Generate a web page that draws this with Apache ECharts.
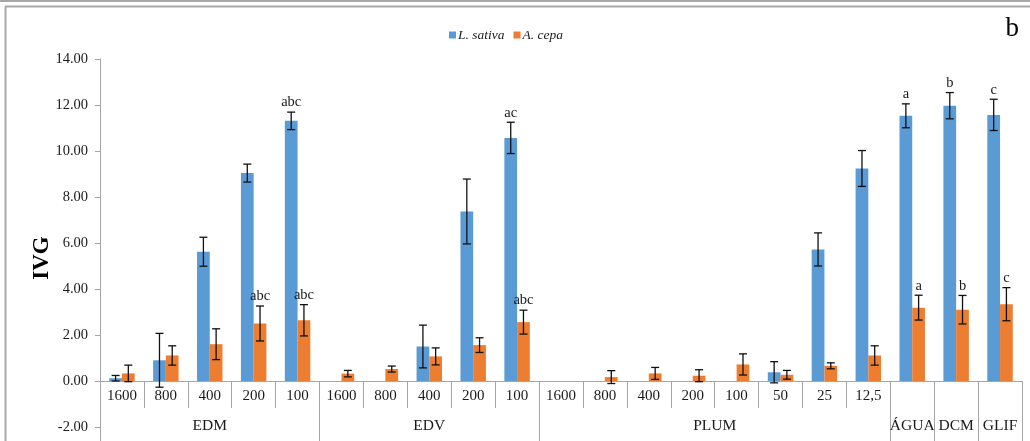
<!DOCTYPE html>
<html>
<head>
<meta charset="utf-8">
<script src="https://cdn.jsdelivr.net/npm/echarts@6/dist/echarts.min.js"></script>
<style>
  html, body { margin: 0; padding: 0; background: #fff; }
  #chart { width: 1030px; height: 441px; }
</style>
</head>
<body>
<div id="chart"></div>
<script>
// Concentration levels (first row of the x axis)
const categories = ['1600', '800', '400', '200', '100',
                    '1600', '800', '400', '200', '100',
                    '1600', '800', '400', '200', '100', '50', '25', '12,5',
                    '', '', ''];
// Treatment groups (second row of the x axis): name, first index, count
const groupNames = ['EDM', 'EDV', 'PLUM', 'ÁGUA', 'DCM', 'GLIF'];
const groupStart = [0, 5, 10, 18, 19, 20];
const groupSize  = [5, 5, 8, 1, 1, 1];

// IVG means and standard deviations
const sativaMean = [0.12, 0.90, 5.62, 9.04, 11.31,
                    0, 0, 1.50, 7.37, 10.57,
                    0, 0, 0, 0, 0, 0.38, 5.72, 9.24,
                    11.53, 11.97, 11.57];
const sativaErr  = [0.12, 1.17, 0.63, 0.39, 0.38,
                    0, 0, 0.93, 1.41, 0.68,
                    0, 0, 0, 0, 0, 0.46, 0.72, 0.78,
                    0.52, 0.57, 0.68];
const cepaMean   = [0.33, 1.11, 1.60, 2.50, 2.64,
                    0.32, 0.52, 1.07, 1.56, 2.56,
                    0, 0.17, 0.33, 0.23, 0.72, 0.27, 0.66, 1.11,
                    3.19, 3.10, 3.34];
const cepaErr    = [0.36, 0.42, 0.67, 0.76, 0.68,
                    0.14, 0.13, 0.37, 0.32, 0.52,
                    0, 0.28, 0.26, 0.26, 0.46, 0.19, 0.13, 0.42,
                    0.54, 0.62, 0.72];
// Significance letters above the error bars
const sativaLetters = ['', '', '', '', 'abc',
                       '', '', '', '', 'ac',
                       '', '', '', '', '', '', '', '',
                       'a', 'b', 'c'];
const cepaLetters   = ['', '', '', 'abc', 'abc',
                       '', '', '', '', 'abc',
                       '', '', '', '', '', '', '', '',
                       'a', 'b', 'c'];
const yTicks = { min: -2, max: 14, interval: 2 };

const BLUE = '#5B9BD5';
const ORANGE = '#ED7D31';
const AXIS_GRAY = '#A6A6A6';
const TEXT = '#1a1a1a';
const SERIF = '"Liberation Serif", "DejaVu Serif", serif';
const CAT_GAP = 0.42; // fraction of a category left empty around the bar pair

// Half-step axis used for the group row: boundaries and centres fall on integer ticks
const halfSteps = categories.length * 2 + 1;
const groupAxisData = new Array(halfSteps).fill('');
const groupBounds = new Set();
groupNames.forEach((name, i) => {
  groupAxisData[groupStart[i] * 2 + groupSize[i]] = name;
  groupBounds.add(groupStart[i] * 2);
  groupBounds.add((groupStart[i] + groupSize[i]) * 2);
});

function errorSeries(name, mean, err, letters, side) {
  return {
    type: 'custom',
    name: name,
    xAxisIndex: 0,
    yAxisIndex: 0,
    z: 5,
    data: mean.map((m, i) => [i, m, err[i]]),
    encode: { x: 0, y: 1 },
    renderItem: function (params, api) {
      const i = api.value(0);
      const m = api.value(1);
      const e = api.value(2);
      const catW = api.size([1, 0])[0];
      const bw = catW * (1 - CAT_GAP) / 2;
      const center = api.coord([i, m]);
      const x = center[0] + side * bw / 2;
      const children = [];
      let topY = center[1];
      if (e > 0) {
        const hi = api.coord([i, m + e])[1];
        const lo = api.coord([i, m - e])[1];
        const cap = 4;
        const st = { stroke: '#111', lineWidth: 1.3 };
        children.push({ type: 'line', shape: { x1: x, y1: hi, x2: x, y2: lo }, style: st });
        children.push({ type: 'line', shape: { x1: x - cap, y1: hi, x2: x + cap, y2: hi }, style: st });
        children.push({ type: 'line', shape: { x1: x - cap, y1: lo, x2: x + cap, y2: lo }, style: st });
        topY = hi;
      }
      const letter = letters[params.dataIndex];
      if (letter) {
        children.push({
          type: 'text',
          style: {
            text: letter, x: x, y: topY - 2,
            align: 'center', verticalAlign: 'bottom',
            font: '14.5px ' + SERIF, fill: TEXT
          }
        });
      }
      return { type: 'group', children: children };
    }
  };
}

const chart = echarts.init(document.getElementById('chart'));
chart.setOption({
  animation: false,
  backgroundColor: '#fff',
  title: {
    text: 'b', right: 6, top: 10,
    textStyle: { fontFamily: SERIF, fontSize: 27, fontWeight: 'normal', color: '#000' }
  },
  legend: {
    data: ['L. sativa', 'A. cepa'],
    left: 444, top: 23,
    icon: 'rect', itemWidth: 7, itemHeight: 7, itemGap: 9,
    textStyle: { fontFamily: SERIF, fontStyle: 'italic', fontSize: 13.5, color: TEXT, padding: [0, 0, 0, -3] }
  },
  graphic: [
    { type: 'line', shape: { x1: 0, y1: 1, x2: 1030, y2: 1 }, style: { stroke: '#A8A8A8', lineWidth: 2 } },
    { type: 'line', shape: { x1: 5, y1: 6.5, x2: 1030, y2: 6.5 }, style: { stroke: '#A8A8A8', lineWidth: 2 } },
    { type: 'line', shape: { x1: 5.5, y1: 6.5, x2: 5.5, y2: 441 }, style: { stroke: '#A8A8A8', lineWidth: 2 } }
  ],
  grid: { left: 100, right: 8, top: 59, bottom: 14, containLabel: false, outerBoundsMode: 'none' },
  xAxis: [
    {
      type: 'category',
      data: categories,
      position: 'bottom',
      axisLine: { onZero: false, lineStyle: { color: AXIS_GRAY, width: 1 } },
      axisTick: { show: true, length: 27, interval: 0, lineStyle: { color: AXIS_GRAY } },
      axisLabel: { interval: 0, margin: 8, fontFamily: SERIF, fontSize: 15, color: TEXT },
      splitLine: { show: false }
    },
    {
      type: 'category',
      data: groupAxisData,
      boundaryGap: false,
      position: 'bottom',
      axisLine: { show: false, onZero: false },
      axisTick: {
        show: true, length: 62,
        interval: function (index) { return groupBounds.has(index); },
        lineStyle: { color: AXIS_GRAY }
      },
      axisLabel: { interval: 0, margin: 37, fontFamily: SERIF, fontSize: 15.5, color: TEXT },
      splitLine: { show: false }
    }
  ],
  yAxis: {
    type: 'value',
    min: yTicks.min, max: yTicks.max, interval: yTicks.interval,
    name: 'IVG', nameLocation: 'middle', nameGap: 46, nameRotate: 90,
    nameMoveOverlap: false,
    nameTextStyle: { fontFamily: SERIF, fontSize: 23, fontWeight: 'bold', color: '#000', padding: [0, 30, 0, 0] },
    axisLine: { show: true, lineStyle: { color: AXIS_GRAY } },
    axisTick: { show: true, length: 5, lineStyle: { color: AXIS_GRAY } },
    axisLabel: {
      margin: 12, fontFamily: SERIF, fontSize: 14.5, color: TEXT,
      formatter: v => v.toFixed(2)
    },
    splitLine: { show: false }
  },
  series: [
    {
      type: 'bar', name: 'L. sativa', data: sativaMean,
      barGap: '0%', barCategoryGap: (CAT_GAP * 100) + '%',
      itemStyle: { color: BLUE }
    },
    {
      type: 'bar', name: 'A. cepa', data: cepaMean,
      barGap: '0%', barCategoryGap: (CAT_GAP * 100) + '%',
      itemStyle: { color: ORANGE }
    },
    errorSeries('sativaErr', sativaMean, sativaErr, sativaLetters, -1),
    errorSeries('cepaErr', cepaMean, cepaErr, cepaLetters, 1)
  ]
});

// Lift both x axes from the bottom of the plot up to the y = 0 line
const zeroY = chart.convertToPixel({ yAxisIndex: 0 }, 0);
const bottomY = chart.convertToPixel({ yAxisIndex: 0 }, yTicks.min);
const lift = -(bottomY - zeroY);
chart.setOption({ xAxis: [{ offset: lift }, { offset: lift }] });
</script>
</body>
</html>
